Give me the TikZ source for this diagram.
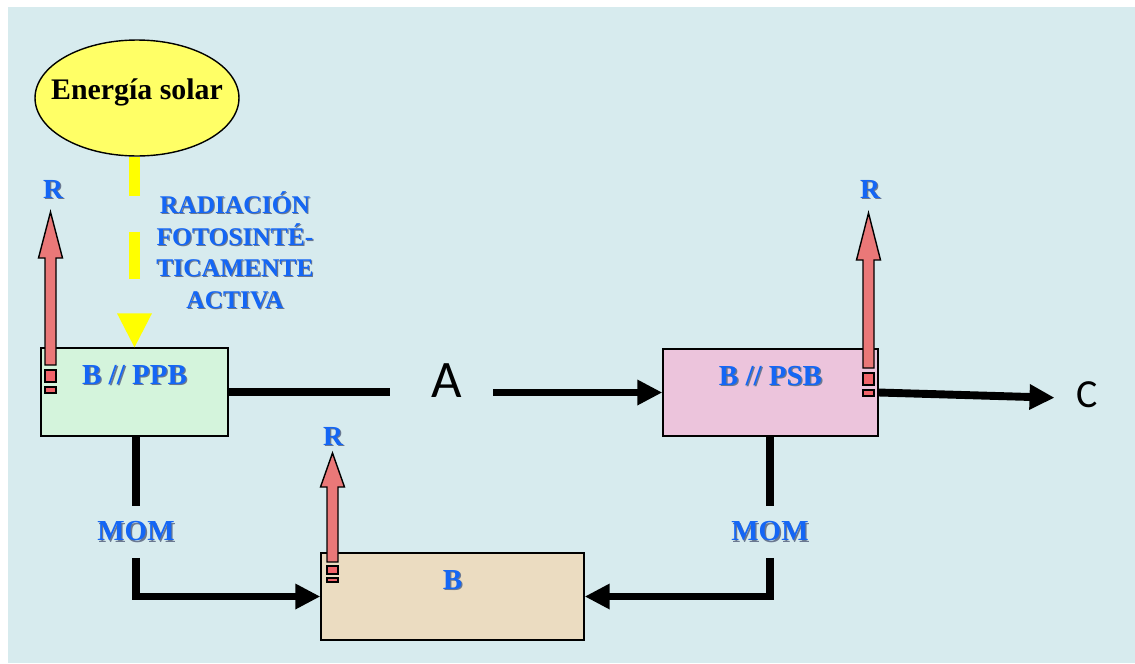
\documentclass[tikz,border=0pt]{standalone}
\usepackage{fontspec}
\setmainfont{Liberation Serif}
\newfontfamily\carlito{Carlito}
\usetikzlibrary{arrows.meta,shapes.geometric}

\definecolor{bgpanel}{HTML}{D7EBEE}
\definecolor{sunfill}{HTML}{FFFF66}
\definecolor{raycol}{HTML}{FFFF00}
\definecolor{ppbfill}{HTML}{D4F4DC}
\definecolor{psbfill}{HTML}{ECC4DC}
\definecolor{bfill}{HTML}{EBDCC1}
\definecolor{labelblue}{HTML}{1466F5}
\definecolor{labelshadow}{HTML}{6A7890}
\definecolor{respfill}{HTML}{EA7878}
\definecolor{respsq}{HTML}{F0646A}

% blue label with a soft drop shadow
\newcommand\shtxt[1]{\leavevmode\rlap{\kern0.045em\raisebox{-0.045em}{\color{labelshadow}#1}}#1}

% respiration block arrow: centre x, tip, head base, bottom, two small squares
\newcommand\resparrow[8]{%
  \draw[resp] (#1-5.5,#4) -- (#1-5.5,#3) -- (#1-12,#3) -- (#1,#2) -- (#1+12,#3)
    -- (#1+5.5,#3) -- (#1+5.5,#4) -- cycle;
  \draw[respbox] (#1-5.5,#5) rectangle (#1+5.5,#6);
  \draw[respbox] (#1-5.5,#7) rectangle (#1+5.5,#8);}

\begin{document}
\begin{tikzpicture}[x=0.02cm,y=-0.02cm,
  compbox/.style={draw=black, line width=0.8pt, inner sep=0pt,
    font=\fontsize{16.5}{18}\selectfont\bfseries, text=labelblue},
  lbl/.style={inner sep=0pt, font=\fontsize{16.5}{18}\selectfont\bfseries, text=labelblue},
  rlbl/.style={inner sep=0pt, font=\fontsize{15.7}{18}\selectfont\bfseries, text=labelblue},
  conn/.style={draw=black, line width=4.5pt},
  tip/.style={-{Triangle[length=0.5cm,width=0.48cm]}},
  resp/.style={draw=black, line width=0.8pt, fill=respfill},
  respbox/.style={draw=black, line width=0.8pt, fill=respsq},
  ray/.style={draw=raycol, line width=0.22cm},
]
\useasboundingbox (0,0) rectangle (1135,663);
\fill[bgpanel] (8,7) rectangle (1135,663);

% the sun
\node[ellipse, draw=black, line width=0.8pt, fill=sunfill, inner sep=0pt,
      minimum width=4.08cm, minimum height=2.32cm] (sun) at (137,98) {};
\node[inner sep=0pt, anchor=base, font=\fontsize{17}{20}\selectfont\bfseries] (suntxt)
      at (137,99) {Energía solar};

% compartments
\node[compbox, fill=ppbfill, minimum width=3.74cm, minimum height=1.76cm,
      text height=0.4cm, text depth=0.72cm] (ppb) at (134.5,392) {\shtxt{B // PPB}};
\node[compbox, fill=psbfill, minimum width=4.3cm, minimum height=1.74cm,
      text height=0.4cm, text depth=0.7cm] (psb) at (770.5,392.5) {\shtxt{B // PSB}};
\node[compbox, fill=bfill, minimum width=5.26cm, minimum height=1.74cm,
      text height=0.4cm, text depth=0.7cm] (b) at (452.5,596.5) {\shtxt{B}};

% incoming radiation
\draw[ray, dash pattern=on 0.78cm off 0.72cm on 3cm] (sun.south -| ppb.north) -- ++(0,122);
\fill[raycol] (ppb.north) -- ++(-17.5,-34) -- ++(35,0) -- cycle;
\node[inner sep=0pt, anchor=base, align=center, text=labelblue,
      font=\fontsize{14.5}{17.9}\selectfont\bfseries] (par) at (235,308)
      {\shtxt{RADIACIÓN}\\ \shtxt{FOTOSINTÉ-}\\ \shtxt{TICAMENTE}\\ \shtxt{ACTIVA}};

% respiration losses
\node[rlbl, anchor=base] (r1) at (53,198) {\shtxt{R}};
\node[rlbl, anchor=base] (r2) at (870,198) {\shtxt{R}};
\node[rlbl, anchor=base] (r3) at (333,445) {\shtxt{R}};
\resparrow{50.5}{212}{258}{365}{370}{382}{387}{393}
\resparrow{868.5}{213}{260}{368}{373}{385}{390}{396}
\resparrow{332.5}{453}{487}{562}{566}{574}{578}{582}

% flows A and C
\node[inner sep=0pt, anchor=base, font=\carlito\fontsize{30}{36}\selectfont] (A) at (446.5,397) {A};
\node[inner sep=0pt, anchor=base, font=\carlito\fontsize{22.7}{27}\selectfont] (C) at (1087.5,407) {C};
\draw[conn] (ppb.east) -- ([xshift=-0.82cm]A.west |- ppb.east);
\draw[conn, tip] ([xshift=0.62cm]A.east |- psb.west) -- (psb.west);
\draw[conn, tip] (psb.east) -- ([xshift=-0.44cm, yshift=-0.07cm]C.west);

% dead organic matter to decomposers
\node[lbl, inner ysep=0.3cm] (mom1) at (136,532) {\shtxt{MOM}};
\node[lbl, inner ysep=0.3cm] (mom2) at (770,532) {\shtxt{MOM}};
\draw[conn] (mom1.north |- ppb.south) -- (mom1.north);
\draw[conn, tip] (mom1.south) |- (b.west);
\draw[conn] (mom2.north |- psb.south) -- (mom2.north);
\draw[conn, tip] (mom2.south) |- (b.east);
\end{tikzpicture}
\end{document}
